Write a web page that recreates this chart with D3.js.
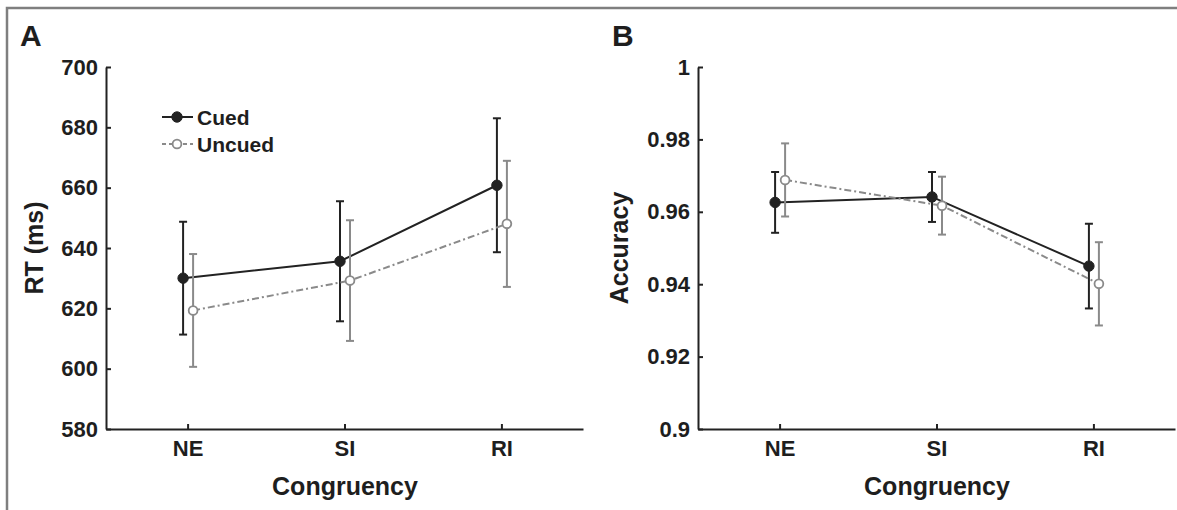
<!DOCTYPE html>
<html>
<head>
<meta charset="utf-8">
<script src="https://cdn.jsdelivr.net/npm/d3@7"></script>
<style>
    body { margin: 0; background: #fff; }
    text { font-family: "Liberation Sans", Arial, Helvetica, sans-serif; font-weight: bold; fill: #1e1e1e; }
</style>
</head>
<body>
<div id="chart"></div>
<script>
// data
const categories = ["NE", "SI", "RI"];

const rtCued = [630.0, 635.6, 660.8];
const rtCuedErr = [18.7, 19.9, 22.2];
const rtUncued = [619.3, 629.2, 648.0];
const rtUncuedErr = [18.7, 20.0, 20.9];
const rtTicks = [580, 600, 620, 640, 660, 680, 700];

const accCued = [0.9626, 0.9641, 0.9450];
const accCuedErr = [0.0084, 0.0069, 0.0117];
const accUncued = [0.9688, 0.9617, 0.9401];
const accUncuedErr = [0.0101, 0.0080, 0.0115];
const accTicks = [0.9, 0.92, 0.94, 0.96, 0.98, 1];

const width = 1177;
const height = 510;

const svg = d3.select("#chart")
    .append("svg")
    .attr("width", width)
    .attr("height", height);

// gray frame on top and left
svg.append("path")
    .attr("d", `M7,${height} L7,8 L${width},8`)
    .attr("fill", "none")
    .attr("stroke", "#7f7f7f")
    .attr("stroke-width", 2.5);

const ink = "#222";
const gray = "#8a8a8a";

function drawPanel(opts) {
    const left = opts.left;
    const top = 67, bottom = 429;

    const x = d3.scalePoint()
        .domain(categories)
        .range([left, left + 477])
        .padding(0.52);

    const y = d3.scaleLinear()
        .domain(opts.domain)
        .range([bottom, top]);

    const g = svg.append("g");

    // y axis, ticks pointing inward
    const yAxis = g.append("g")
        .attr("transform", `translate(${left},0)`)
        .call(d3.axisLeft(y)
            .tickValues(opts.ticks)
            .tickFormat(opts.format)
            .tickSize(-5)
            .tickSizeOuter(0)
            .tickPadding(8));

    // x axis
    const xAxis = g.append("g")
        .attr("transform", `translate(0,${bottom})`)
        .call(d3.axisBottom(x)
            .tickSize(-5)
            .tickSizeOuter(0)
            .tickPadding(11));

    [yAxis, xAxis].forEach(a => {
        a.select(".domain").attr("stroke", ink).attr("stroke-width", 2);
        a.selectAll(".tick line").attr("stroke", ink).attr("stroke-width", 2);
        a.selectAll(".tick text")
            .style("font-size", "22px")
            .style("font-family", "'Liberation Sans', Arial, sans-serif")
            .style("font-weight", "bold")
            .attr("fill", "#2a2a2a");
    });

    // panel letter
    g.append("text")
        .attr("x", left - 86)
        .attr("y", 46)
        .style("font-size", "30px")
        .text(opts.letter);

    // y title
    g.append("text")
        .attr("transform", `translate(${opts.yTitleX},248) rotate(-90)`)
        .attr("text-anchor", "middle")
        .style("font-size", "25px")
        .text(opts.yTitle);

    // x title
    g.append("text")
        .attr("x", left + 239)
        .attr("y", 495)
        .attr("text-anchor", "middle")
        .style("font-size", "25px")
        .text("Congruency");

    // series: cued (black solid) and uncued (gray dash-dot)
    const series = [
        { vals: opts.cued, errs: opts.cuedErr, dx: -4.5, color: ink, dash: null, filled: true },
        { vals: opts.uncued, errs: opts.uncuedErr, dx: 5.5, color: gray, dash: "7,3,2,3", filled: false }
    ];

    series.forEach(s => {
        const pts = categories.map((c, i) => ({ x: x(c) + s.dx, v: s.vals[i], e: s.errs[i] }));
        const sg = g.append("g");

        sg.append("path")
            .datum(pts)
            .attr("d", d3.line().x(d => d.x).y(d => y(d.v)))
            .attr("fill", "none")
            .attr("stroke", s.color)
            .attr("stroke-width", 2)
            .attr("stroke-dasharray", s.dash);

        // error bars
        const eb = sg.selectAll(".err")
            .data(pts)
            .enter()
            .append("g");
        eb.append("line")
            .attr("x1", d => d.x).attr("x2", d => d.x)
            .attr("y1", d => y(d.v - d.e)).attr("y2", d => y(d.v + d.e))
            .attr("stroke", s.color).attr("stroke-width", 2);
        [-1, 1].forEach(sign => {
            eb.append("line")
                .attr("x1", d => d.x - 4).attr("x2", d => d.x + 4)
                .attr("y1", d => y(d.v + sign * d.e)).attr("y2", d => y(d.v + sign * d.e))
                .attr("stroke", s.color).attr("stroke-width", 2);
        });

        sg.selectAll("circle")
            .data(pts)
            .enter()
            .append("circle")
            .attr("cx", d => d.x)
            .attr("cy", d => y(d.v))
            .attr("r", s.filled ? 5.2 : 4.4)
            .attr("fill", s.filled ? s.color : "#fff")
            .attr("stroke", s.color)
            .attr("stroke-width", s.filled ? 1 : 1.8);
    });

    // legend (panel A only)
    if (opts.legend) {
        const items = [
            { label: "Cued", color: ink, dash: null, filled: true, y: 117 },
            { label: "Uncued", color: gray, dash: "4,3", filled: false, y: 144 }
        ];
        const lg = g.append("g").attr("class", "legend");
        items.forEach(it => {
            lg.append("line")
                .attr("x1", left + 56).attr("x2", left + 87)
                .attr("y1", it.y).attr("y2", it.y)
                .attr("stroke", it.color)
                .attr("stroke-width", 2)
                .attr("stroke-dasharray", it.dash);
            lg.append("circle")
                .attr("cx", left + 71).attr("cy", it.y)
                .attr("r", it.filled ? 5.2 : 4.4)
                .attr("fill", it.filled ? it.color : "#fff")
                .attr("stroke", it.color)
                .attr("stroke-width", it.filled ? 1 : 1.8);
            lg.append("text")
                .attr("x", left + 91)
                .attr("y", it.y + 7.5)
                .style("font-size", "21px")
                .text(it.label);
        });
    }
}

drawPanel({
    left: 106,
    letter: "A",
    domain: [580, 700],
    ticks: rtTicks,
    format: d3.format("d"),
    yTitle: "RT (ms)",
    yTitleX: 43,
    cued: rtCued, cuedErr: rtCuedErr,
    uncued: rtUncued, uncuedErr: rtUncuedErr,
    legend: true
});

drawPanel({
    left: 698,
    letter: "B",
    domain: [0.9, 1],
    ticks: accTicks,
    format: d => d === 1 ? "1" : d === 0.9 ? "0.9" : d3.format(".2f")(d),
    yTitle: "Accuracy",
    yTitleX: 628,
    cued: accCued, cuedErr: accCuedErr,
    uncued: accUncued, uncuedErr: accUncuedErr,
    legend: false
});
</script>
</body>
</html>
